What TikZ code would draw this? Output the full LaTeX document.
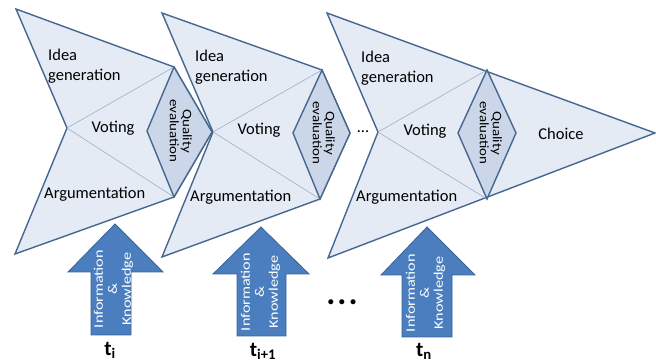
\documentclass[tikz,border=0pt]{standalone}
\usepackage{fontspec}
\setmainfont{Carlito}
\definecolor{outl}{HTML}{476690}
\definecolor{lightf}{HTML}{E4EBF5}
\definecolor{darkf}{HTML}{CBD7E8}
\definecolor{innerl}{HTML}{9FB0C6}
\definecolor{arrowf}{HTML}{4A7EBF}
\definecolor{arrowd}{HTML}{3A6295}
\newcommand{\qualtext}{\scalebox{1.15}[1]{\begin{tabular}{@{}c@{}}Quality\\evaluation\end{tabular}}}
\newcommand{\infotext}{\scalebox{1.25}[1]{\begin{tabular}{@{}c@{}}Information\\\&\\Knowledge\end{tabular}}}
\begin{document}
\begin{tikzpicture}[x=1pt,y=-1pt,
  shapebox/.style={draw=outl, fill=lightf, line width=1.4pt, line join=miter},
  qualbox/.style={draw=outl, fill=darkf, line width=1.4pt, line join=miter},
  innerline/.style={draw=innerl, line width=0.6pt},
  infoarrow/.style={draw=arrowd, fill=arrowf, line width=0.8pt},
  lbl/.style={font=\fontsize{16.5}{20}\selectfont, inner sep=0pt},
  qlbl/.style={font=\fontsize{13}{13}\selectfont\renewcommand{\arraystretch}{1}, inner sep=0pt, rotate=-90},
  ilbl/.style={font=\fontsize{13}{14}\selectfont\renewcommand{\arraystretch}{1}, text=white, inner sep=0pt, rotate=90},
  tlbl/.style={font=\fontsize{21}{24}\selectfont\bfseries, inner sep=0pt}
]
\useasboundingbox (0,0) rectangle (656,363);

% ---------- shape 1 ----------
\path[shapebox] (16,9) -- (174,67) -- (212,132) -- (174,197) -- (15,254) -- (67,128) -- cycle;
\path[innerline] (67,128) -- (174,67) (67,128) -- (174,197);
\path[qualbox] (174,67) -- (212,132) -- (174,197) -- (147,131) -- cycle;
\node[lbl, anchor=west, align=left] (idea1) at (48,66) {Idea\\generation};
\node[lbl] (vote1) at (113,128) {Voting};
\node[lbl, anchor=west] (arg1) at (44,194) {Argumentation};
\node[qlbl] (qual1) at (179,131) {\qualtext};

% ---------- shape 2 ----------
\path[shapebox] (162,13) -- (322,70) -- (350,133) -- (320,199) -- (162,257) -- (213,132) -- cycle;
\path[innerline] (213,132) -- (322,70) (213,132) -- (320,199);
\path[qualbox] (322,70) -- (350,133) -- (320,199) -- (293,133) -- cycle;
\node[lbl, anchor=west, align=left] (idea2) at (195,67) {Idea\\generation};
\node[lbl] (vote2) at (259,130) {Voting};
\node[lbl, anchor=west] (arg2) at (190,197) {Argumentation};
\node[qlbl] (qual2) at (322,133) {\qualtext};

% ---------- shape 3 ----------
\path[shapebox] (327,13) -- (655,133) -- (328,258) -- (378,132) -- cycle;
\path[innerline] (378,132) -- (487,70) (378,132) -- (487,199);
\path[qualbox] (487,70) -- (516,133) -- (487,199) -- (458,133) -- cycle;
\node[lbl, anchor=west, align=left] (idea3) at (361,68) {Idea\\generation};
\node[lbl] (vote3) at (425,131) {Voting};
\node[lbl, anchor=west] (arg3) at (356,197) {Argumentation};
\node[qlbl] (qual3) at (489,133) {\qualtext};
\node[lbl] (choice) at (561,134) {Choice};
\node[lbl] (dots1) at (363,132) {...};

% ---------- arrows ----------
\path[infoarrow] (91,335) -- (91,272) -- (68,272) -- (115,224) -- (163,272) -- (131,272) -- (131,335) -- cycle;
\node[ilbl] (info1) at (114,289) {\infotext};
\node[tlbl] (t1) at (110,350) {t\textsubscript{i}};

\path[infoarrow] (237,336) -- (237,274) -- (213,274) -- (261,227) -- (309,274) -- (286,274) -- (286,336) -- cycle;
\node[ilbl] (info2) at (261,292) {\infotext};
\node[tlbl] (t2) at (263,351) {t\textsubscript{i+1}};

\node[font=\fontsize{34}{34}\selectfont\bfseries, inner sep=0pt] (dots2) at (342,302) {.\hspace{2pt}.\hspace{2pt}.};

\path[infoarrow] (402,337) -- (402,275) -- (381,275) -- (427,227) -- (475,275) -- (452,275) -- (452,337) -- cycle;
\node[ilbl] (info3) at (426,293) {\infotext};
\node[tlbl] (t3) at (424,351) {t\textsubscript{n}};
\end{tikzpicture}
\end{document}
